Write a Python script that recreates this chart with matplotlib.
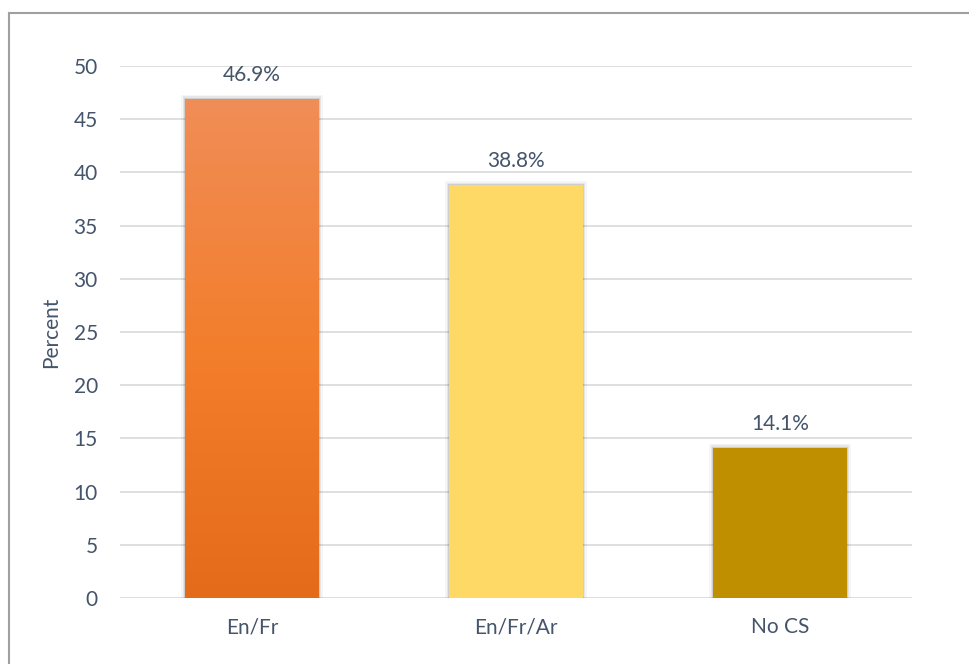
import numpy as np
import matplotlib.pyplot as plt
from matplotlib.colors import LinearSegmentedColormap
from matplotlib.lines import Line2D

categories = ["En/Fr", "En/Fr/Ar", "No CS"]
percents = [46.9, 38.8, 14.1]
labels = ["46.9%", "38.8%", "14.1%"]

text_col = "#44546A"
fs = 15
plt.rcParams['font.family'] = ['Lato', 'DejaVu Sans']

fig = plt.figure(figsize=(9.70, 6.64), dpi=100)
ax = fig.add_axes([120/970, (664-598)/664, 792/970, 532/664])

x = np.arange(len(categories))
bars = ax.bar(x, percents, width=0.505, color=["#F08830", "#FED966", "#BF8F00"],
              zorder=3, linewidth=0)

# gradient on first bar, Excel style
grad = LinearSegmentedColormap.from_list("g", ["#E46B1A", "#F37E2C", "#F08D57"])
b0 = bars[0]
bx, bw, bh = b0.get_x(), b0.get_width(), b0.get_height()
img = ax.imshow(np.linspace(0, 1, 256).reshape(-1, 1), cmap=grad, origin="lower",
                extent=[bx, bx + bw, 0, bh], aspect="auto", zorder=3.5)
img.set_clip_path(b0)
b0.set_facecolor("none")

# soft shadow around bars
for b in bars:
    for i, a in enumerate([0.04, 0.06, 0.10]):
        pad = (3 - i) * 0.005
        ax.bar(b.get_x() + b.get_width() / 2, b.get_height() + 0.12 * (3 - i), width=b.get_width() + 2 * pad,
               color="black", alpha=a, zorder=2, linewidth=0)

for xi, v, lab in zip(x, percents, labels):
    ax.text(xi, v + 1.3, lab, ha="center", va="bottom", fontsize=fs, color=text_col, zorder=5)

ax.set_xlim(-0.5, 2.5)
ax.set_ylim(0, 50)
ax.set_yticks(np.arange(0, 51, 5))
ax.set_xticks(x)
ax.set_xticklabels(categories)
ax.grid(axis="y", color="#D9D9D9", linewidth=1.2, zorder=0)
ax.tick_params(length=0, labelsize=fs, labelcolor=text_col)
ax.tick_params(axis="y", pad=16)
ax.tick_params(axis="x", pad=14)
for s in ax.spines.values():
    s.set_visible(False)
ax.set_ylabel("Percent", fontsize=fs, color=text_col, labelpad=9)

# chart frame (only top and left visible in the crop)
fig.add_artist(Line2D([9/970, 9/970], [0, 1 - 13/664], color="#A0A0A0", lw=1.5, transform=fig.transFigure))
fig.add_artist(Line2D([9/970, 1], [1 - 13/664, 1 - 13/664], color="#A0A0A0", lw=1.5, transform=fig.transFigure))

fig.savefig("out.png", dpi=100)
